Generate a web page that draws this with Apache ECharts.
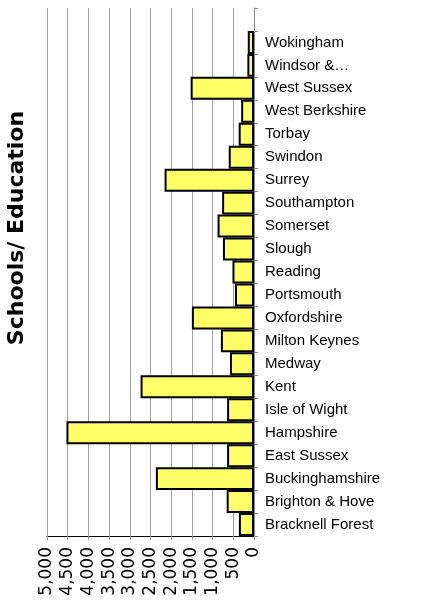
<!DOCTYPE html>
<html>
<head>
<meta charset="utf-8">
<script src="https://cdn.jsdelivr.net/npm/echarts@6/dist/echarts.min.js"></script>
<style>
  html, body { margin: 0; padding: 0; background: #fff; }
  #chart { width: 435px; height: 607px; }
</style>
</head>
<body>
<div id="chart"></div>
<script>
// regions, top to bottom as drawn
const regions = [
    'Wokingham', 'Windsor &\u2026', 'West Sussex', 'West Berkshire', 'Torbay',
    'Swindon', 'Surrey', 'Southampton', 'Somerset', 'Slough', 'Reading',
    'Portsmouth', 'Oxfordshire', 'Milton Keynes', 'Medway', 'Kent',
    'Isle of Wight', 'Hampshire', 'East Sussex', 'Buckinghamshire',
    'Brighton & Hove', 'Bracknell Forest'
];
const values = [
    150, 160, 1530, 310, 370,
    610, 2160, 770, 880, 750, 520,
    460, 1500, 800, 580, 2740,
    650, 4530, 650, 2370,
    660, 365
];
const chartTitle = 'Schools/ Education';

// blank slot above the first region (empty space at top of plot in the original)
const cats = [''].concat(regions);
const barData = [null].concat(values);

let chart = echarts.init(document.getElementById('chart'));
chart.setOption({
    animation: false,
    backgroundColor: '#fff',
    grid: {left: 47, right: 181, top: 8, bottom: 71},
    graphic: [{
        type: 'text',
        x: 17, y: 228,
        rotation: Math.PI / 2,
        style: {
            text: chartTitle,
            font: 'bold 22px "DejaVu Sans", sans-serif',
            fill: '#000',
            align: 'center',
            verticalAlign: 'middle'
        }
    }],
    xAxis: {
        type: 'value',
        inverse: true,
        min: 0, max: 5000, interval: 500,
        position: 'bottom',
        axisLine: {show: true, lineStyle: {color: '#000', width: 1}},
        axisTick: {show: true, length: 4, lineStyle: {color: '#999'}},
        splitLine: {show: true, lineStyle: {color: '#a0a0a0', width: 1}},
        axisLabel: {
            rotate: 90,
            margin: 11,
            color: '#000',
            fontFamily: '"DejaVu Sans", sans-serif',
            fontSize: 17,
            formatter: v => v.toLocaleString('en-US')
        }
    },
    yAxis: {
        type: 'category',
        data: cats,
        inverse: true,
        position: 'right',
        axisLine: {show: true, lineStyle: {color: '#888', width: 1}},
        axisTick: {show: true, length: 4, lineStyle: {color: '#888'}},
        splitLine: {show: false},
        axisLabel: {
            margin: 11,
            color: '#000',
            fontFamily: '"Liberation Sans", Arial, sans-serif',
            fontSize: 15
        }
    },
    series: [{
        type: 'bar',
        data: barData,
        barCategoryGap: 0,
        itemStyle: {color: '#ffff66', borderColor: '#000', borderWidth: 2}
    }]
});
</script>
</body>
</html>
